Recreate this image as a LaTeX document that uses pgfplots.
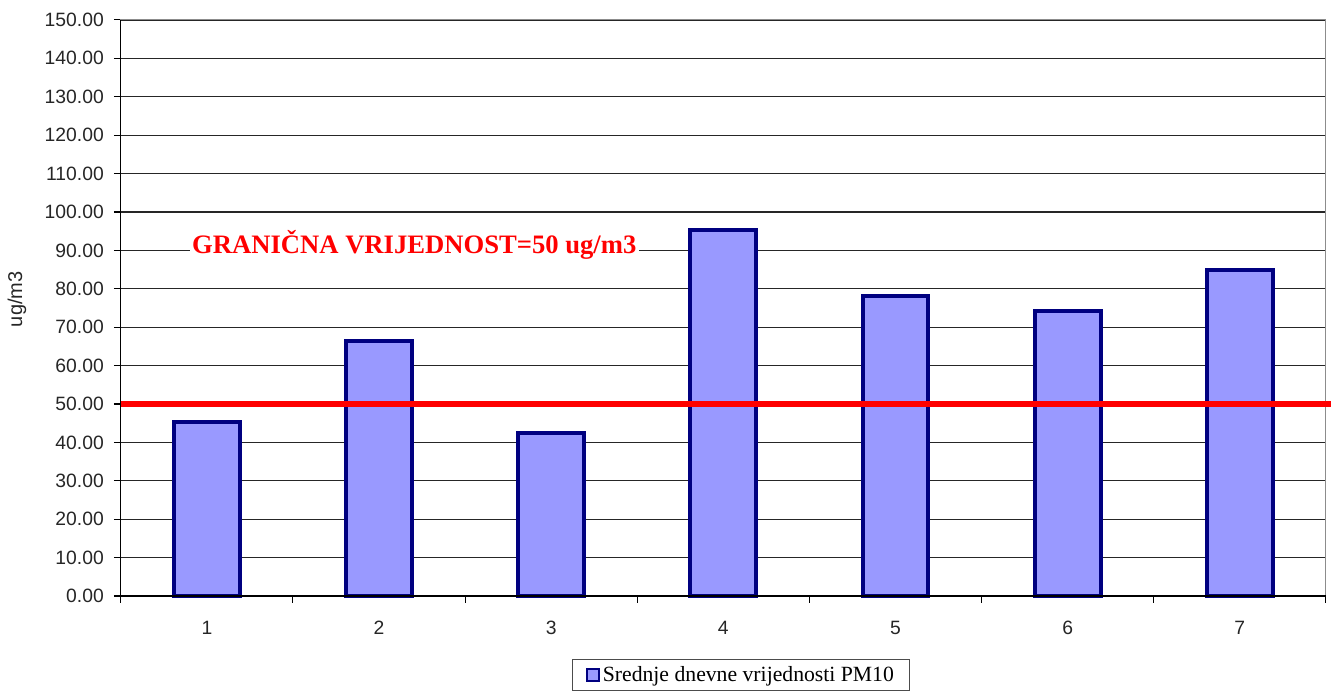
\documentclass[border=0pt]{standalone}
\usepackage{pgfplots}
\pgfplotsset{compat=1.18}
\usepackage{fontspec}
\setmainfont{Liberation Serif}
\newfontfamily\tickfont{Liberation Sans}
\definecolor{barfill}{HTML}{9999FF}
\definecolor{baredge}{HTML}{000080}
\begin{document}
\begin{tikzpicture}
\begin{axis}[
  scale only axis, width=905.25pt, height=432.75pt,
  xmin=0.5, xmax=7.5, ymin=0, ymax=150,
  clip=false,
  ytick={0,10,...,150},
  xtick={1,...,7},
  xticklabels={1,2,3,4,5,6,7},
  minor xtick={0.5,1.5,...,7.5},
  xtick pos=bottom, ytick pos=left,
  major x tick style={draw=none},
  minor x tick style={black, line width=0.8pt},
  major y tick style={black, line width=0.8pt},
  tick align=outside,
  major tick length=5.25pt, minor tick length=5pt,
  axis line style={draw=black!45, line width=0.8pt},
  ymajorgrids, major grid style={black!85, line width=0.9pt},
  yticklabel style={font=\tickfont\fontsize{14.5}{16}\selectfont, text=black!85, xshift=-4pt,
    /pgf/number format/fixed, /pgf/number format/fixed zerofill,
    /pgf/number format/precision=2, /pgf/number format/assume math mode=true},
  xticklabel style={font=\tickfont\fontsize{14.5}{16}\selectfont, text=black!85, yshift=-10pt},
  ylabel={ug/m3},
  ylabel style={font=\tickfont\fontsize{15}{17}\selectfont, text=black!85, at={(rel axis cs:-0.0862,0.515)}, anchor=center},
  legend style={at={(rel axis cs:0.515,-0.137)}, anchor=center, draw=black!70, line width=0.8pt,
    font=\fontsize{16.3}{18}\selectfont, inner xsep=10pt, inner ysep=3pt},
  legend image code/.code={\draw[fill=barfill, draw=baredge, line width=1.5pt] (0pt,-4.5pt) rectangle (9pt,4.5pt);},
]
\addplot[ybar, bar width=49.5pt, fill=barfill, draw=baredge, line width=3pt]
  coordinates {(1,45.3) (2,66.3) (3,42.4) (4,95.2) (5,78.2) (6,74.3) (7,85.0)};
\addlegendentry{Srednje dnevne vrijednosti PM10}
\addplot[red, line width=4.5pt, forget plot] coordinates {(0.5,50) (7.53,50)};
\draw[black, line width=1pt] (rel axis cs:0,1) -- (rel axis cs:0,0) -- (rel axis cs:1,0);
\node[fill=white, text=red, font=\bfseries\fontsize{20}{22}\selectfont, inner sep=2pt]
  at (axis cs:2.205,91.5) {GRANIČNA VRIJEDNOST=50 ug/m3};
\path (rel axis cs:-0.10025,-0.16638) rectangle (rel axis cs:1.00497,1.03466);
\end{axis}
\end{tikzpicture}
\end{document}
